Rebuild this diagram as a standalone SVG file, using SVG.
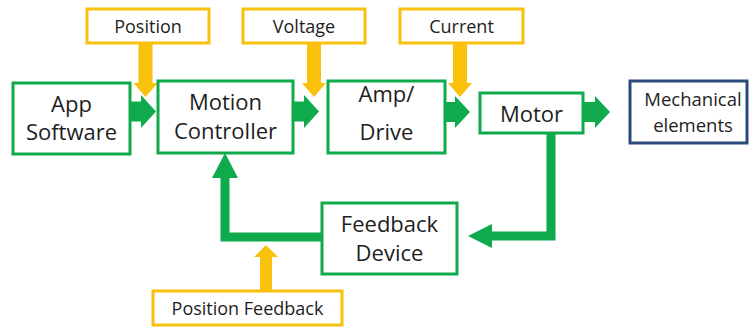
<svg xmlns="http://www.w3.org/2000/svg" width="749" height="327" viewBox="0 0 749 327">
<style>
.g{fill:#fff;stroke:#0FAA4C;stroke-width:3}
.y{fill:#fff;stroke:#F9C00C;stroke-width:3}
.b{fill:#fff;stroke:#2B4A7A;stroke-width:3}
.ga{fill:#0FAA4C}
.ya{fill:#F9C00C}
.ln{fill:none;stroke:#0FAA4C;stroke-width:9;stroke-linejoin:miter}
text{font-family:"Open Sans","Liberation Sans",sans-serif;fill:#1e1e1e;text-anchor:middle}
.big{font-size:22px}
.sm{font-size:18px}
.md{font-size:18.5px}
</style>
<rect width="749" height="327" fill="#fff"/>
<g id="connectors">
<polygon class="ya" points="138.5,43 152.5,43 152.5,83 157.5,83 145.5,97 133.5,83 138.5,83"/>
<polygon class="ya" points="307,43 321,43 321,83 326,83 314,97 302,83 307,83"/>
<polygon class="ya" points="453,43 467,43 467,83 472,83 460,97 448,83 453,83"/>
<polygon class="ga" points="130,101.5 141,101.5 141,95 156,111.5 141,128 141,121.5 130,121.5"/>
<polygon class="ga" points="293,101.5 304,101.5 304,95 319,111.5 304,128 304,121.5 293,121.5"/>
<polygon class="ga" points="445,102 455,102 455,96 470,112 455,128 455,122 445,122"/>
<polygon class="ga" points="583,102 595,102 595,96 610,112 595,128 595,122 583,122"/>
<polyline class="ln" points="551,133 551,236 490,236"/>
<polygon class="ga" points="492,224 492,248 468,236"/>
<polyline class="ln" points="322,237 225,237 225,176"/>
<polygon class="ga" points="212,178 238,178 225,153"/>
<polygon class="ya" points="260,291 272,291 272,257 278,257 266,245 254,257 260,257"/>
</g>
<g id="position"><rect class="y" x="87" y="9" width="122" height="34"/><text class="sm" x="148" y="33">Position</text></g>
<g id="voltage"><rect class="y" x="243" y="9" width="122" height="34"/><text class="sm" x="304" y="33">Voltage</text></g>
<g id="current"><rect class="y" x="400" y="9" width="123" height="34"/><text class="sm" x="461.5" y="33">Current</text></g>
<g id="app"><rect class="g" x="13" y="83" width="117" height="71"/><text class="big" x="71.5" y="112">App</text><text class="big" x="71.5" y="140">Software</text></g>
<g id="motion"><rect class="g" x="158" y="81" width="135" height="72"/><text class="big" x="225.5" y="110">Motion</text><text class="big" x="225.5" y="139">Controller</text></g>
<g id="amp"><rect class="g" x="328" y="81" width="117" height="72"/><text class="big" x="386.5" y="102">Amp/</text><text class="big" x="386.5" y="140">Drive</text></g>
<g id="motor"><rect class="g" x="480" y="93" width="103" height="40"/><text class="big" x="531.5" y="122">Motor</text></g>
<g id="mech"><rect class="b" x="630" y="81" width="117" height="62"/><text class="md" x="693" y="106">Mechanical</text><text class="md" x="693" y="132">elements</text></g>
<g id="feedback"><rect class="g" x="322" y="203" width="135" height="71"/><text class="big" x="389.5" y="232">Feedback</text><text class="big" x="389.5" y="261">Device</text></g>
<g id="posfb"><rect class="y" x="153" y="291" width="189" height="34"/><text class="sm" x="247.5" y="315">Position Feedback</text></g>
</svg>
